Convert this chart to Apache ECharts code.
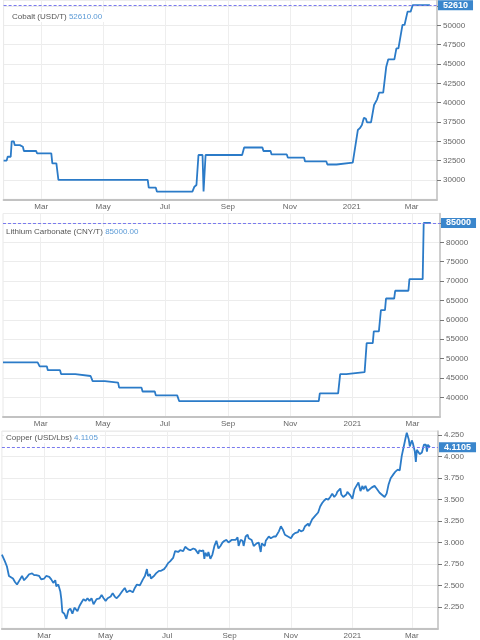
<!DOCTYPE html>
<html>
<head>
<meta charset="utf-8">
<script src="https://cdn.jsdelivr.net/npm/echarts@6.0.0/dist/echarts.min.js"></script>
<style>html,body{margin:0;padding:0;background:#fff}#c{width:480px;height:640px}</style>
</head>
<body>
<div id="c"></div>
<script>
// ---------------- DATA ----------------
const monthLabels = ['Jan','Feb','Mar','Apr','May','Jun','Jul','Aug','Sep','Oct','Nov','Dec'];
const labelMonths = ['01','03','05','07','09','11'];

const cobaltDates = ["2020-01-24","2020-01-27","2020-01-28","2020-01-31","2020-02-01","2020-02-03","2020-02-04","2020-02-09","2020-02-10","2020-02-12","2020-02-13","2020-02-25","2020-02-26","2020-03-11","2020-03-12","2020-03-16","2020-03-18","2020-06-14","2020-06-15","2020-06-22","2020-06-23","2020-07-28","2020-07-30","2020-08-01","2020-08-03","2020-08-07","2020-08-08","2020-08-10","2020-09-15","2020-09-17","2020-10-05","2020-10-06","2020-10-13","2020-10-14","2020-10-29","2020-10-30","2020-11-15","2020-11-16","2020-12-07","2020-12-08","2020-12-17","2020-12-18","2021-01-02","2021-01-07","2021-01-09","2021-01-11","2021-01-13","2021-01-15","2021-01-16","2021-01-20","2021-01-23","2021-01-26","2021-01-28","2021-02-01","2021-02-04","2021-02-06","2021-02-12","2021-02-14","2021-02-16","2021-02-20","2021-02-22","2021-02-25","2021-02-28","2021-03-02","2021-03-19"];
const cobaltPrices = [32500,32500,33000,33000,35000,35000,34500,34500,34300,34300,33750,33750,33450,33450,32150,32150,30000,30000,29000,29000,28500,28500,29130,29350,33230,33230,28500,33230,33230,34200,34200,33750,33750,33300,33300,32900,32900,32400,32400,32000,32000,32250,32250,36460,36700,37100,38060,37900,37460,37460,39700,40430,41300,41300,44650,45600,45600,47030,47030,50050,50050,51770,51770,52610,52610];

const lithiumDates = ["2020-01-24","2020-02-27","2020-02-29","2020-03-07","2020-03-08","2020-03-20","2020-03-21","2020-04-04","2020-04-05","2020-04-19","2020-04-21","2020-05-03","2020-05-04","2020-05-16","2020-05-17","2020-06-08","2020-06-09","2020-06-21","2020-06-22","2020-07-13","2020-07-15","2020-11-29","2020-11-30","2020-12-18","2020-12-20","2020-12-26","2020-12-27","2021-01-13","2021-01-15","2021-01-21","2021-01-22","2021-01-27","2021-01-29","2021-02-02","2021-02-03","2021-02-11","2021-02-12","2021-02-25","2021-02-26","2021-03-11","2021-03-12","2021-03-19"];
const lithiumPrices = [49000,49000,48000,48000,47000,47000,46000,46000,45500,45500,44200,44200,43800,43800,42500,42500,41500,41500,40500,40500,39000,39000,41000,41000,46000,46000,46500,46500,54000,54000,57000,57000,62500,62500,65500,65500,67500,67500,70500,70500,85000,85000];

const copperDates = [
"2020-01-19","2020-01-22","2020-01-24","2020-01-26","2020-01-30",
"2020-02-01","2020-02-03","2020-02-05","2020-02-08","2020-02-10","2020-02-13","2020-02-15","2020-02-18","2020-02-20","2020-02-22","2020-02-25","2020-02-27",
"2020-03-01","2020-03-03","2020-03-06","2020-03-08","2020-03-10","2020-03-12","2020-03-13","2020-03-15","2020-03-17","2020-03-18","2020-03-19","2020-03-21","2020-03-23","2020-03-25","2020-03-27","2020-03-29","2020-03-31",
"2020-04-03","2020-04-05","2020-04-07","2020-04-09","2020-04-11","2020-04-13","2020-04-15","2020-04-17","2020-04-19","2020-04-22","2020-04-25","2020-04-27","2020-04-29",
"2020-05-01","2020-05-03","2020-05-06","2020-05-08","2020-05-10","2020-05-12","2020-05-15","2020-05-18","2020-05-20","2020-05-22","2020-05-25","2020-05-28","2020-05-30",
"2020-06-01","2020-06-04","2020-06-07","2020-06-09","2020-06-11","2020-06-12","2020-06-14","2020-06-15","2020-06-18","2020-06-20","2020-06-23","2020-06-25","2020-06-28","2020-06-30",
"2020-07-02","2020-07-04","2020-07-07","2020-07-09","2020-07-12","2020-07-14","2020-07-17","2020-07-19","2020-07-22","2020-07-24","2020-07-27","2020-07-29",
"2020-08-01","2020-08-02","2020-08-04","2020-08-06","2020-08-07","2020-08-08","2020-08-10","2020-08-11","2020-08-13","2020-08-15","2020-08-17","2020-08-19","2020-08-21","2020-08-23","2020-08-25","2020-08-27","2020-08-29","2020-08-31",
"2020-09-03","2020-09-04","2020-09-07","2020-09-09","2020-09-10","2020-09-12","2020-09-14","2020-09-15","2020-09-17","2020-09-19","2020-09-20","2020-09-23","2020-09-25","2020-09-28","2020-09-30",
"2020-10-02","2020-10-03","2020-10-06","2020-10-07","2020-10-10","2020-10-12","2020-10-15","2020-10-17","2020-10-20","2020-10-22","2020-10-24","2020-10-26","2020-10-29",
"2020-11-01","2020-11-03","2020-11-05","2020-11-08","2020-11-09","2020-11-11","2020-11-13","2020-11-15","2020-11-18","2020-11-19","2020-11-22","2020-11-23","2020-11-25","2020-11-28","2020-11-30",
"2020-12-02","2020-12-04","2020-12-06","2020-12-08","2020-12-10","2020-12-12","2020-12-14","2020-12-16","2020-12-17","2020-12-20","2020-12-21","2020-12-23","2020-12-26","2020-12-27","2020-12-30",
"2021-01-01","2021-01-03","2021-01-05","2021-01-07","2021-01-09","2021-01-11","2021-01-12","2021-01-14","2021-01-16","2021-01-18","2021-01-20","2021-01-23","2021-01-25","2021-01-28","2021-01-30",
"2021-02-02","2021-02-04","2021-02-06","2021-02-08","2021-02-11","2021-02-13","2021-02-15","2021-02-17","2021-02-19","2021-02-21","2021-02-23","2021-02-24","2021-02-26","2021-02-27",
"2021-03-01","2021-03-02","2021-03-04","2021-03-05","2021-03-06","2021-03-07","2021-03-09","2021-03-11","2021-03-13","2021-03-15","2021-03-16","2021-03-17","2021-03-19"];
const copperPrices = [
2.86,2.78,2.72,2.61,2.58,
2.54,2.51,2.55,2.61,2.56,2.60,2.63,2.64,2.62,2.62,2.61,2.57,
2.58,2.61,2.60,2.57,2.53,2.56,2.49,2.51,2.43,2.34,2.19,2.17,2.11,2.21,2.23,2.17,2.24,
2.20,2.26,2.30,2.34,2.32,2.35,2.32,2.35,2.28,2.34,2.35,2.39,2.35,
2.32,2.35,2.37,2.41,2.37,2.35,2.39,2.44,2.47,2.42,2.44,2.42,2.47,
2.51,2.50,2.57,2.61,2.69,2.61,2.63,2.58,2.61,2.64,2.67,2.67,2.69,2.72,
2.76,2.78,2.82,2.90,2.89,2.91,2.90,2.95,2.92,2.91,2.93,2.92,
2.87,2.91,2.90,2.91,2.81,2.88,2.84,2.89,2.81,2.86,2.96,3.02,2.93,2.96,3.00,3.02,3.03,3.00,
3.03,3.05,3.03,3.06,2.96,3.03,3.02,2.96,3.07,3.09,3.05,3.03,2.96,2.99,3.00,
2.89,2.99,2.96,3.02,3.07,3.05,3.07,3.07,3.13,3.19,3.15,3.09,3.07,
3.05,3.09,3.11,3.12,3.15,3.13,3.14,3.19,3.22,3.19,3.27,3.29,3.31,3.35,3.42,
3.46,3.49,3.51,3.50,3.53,3.57,3.53,3.56,3.59,3.63,3.56,3.53,3.56,3.59,3.55,
3.51,3.62,3.66,3.70,3.60,3.66,3.62,3.66,3.60,3.62,3.64,3.66,3.63,3.58,3.56,
3.53,3.57,3.68,3.75,3.80,3.83,3.85,3.84,4.01,4.12,4.23,4.28,4.20,4.12,
4.19,4.16,4.06,3.94,4.08,4.10,4.03,4.05,4.14,4.14,4.06,4.14,4.1105];

const seriesNames = ['Cobalt (USD/T)', 'Lithium Carbonate (CNY/T)', 'Copper (USD/Lbs)'];
const lastValues = [52610, 85000, 4.1105];
const lastValueTexts = ['52610.00', '85000.00', '4.1105'];
const lastTagTexts = ['52610', '85000', '4.1105'];
const axisStart = ['2020-01-24', '2020-01-24', '2020-01-19'];
const axisEnd = ['2021-03-26', '2021-03-28', '2021-03-27'];
const yMin = [27500, 35000, 2.0];
const yMax = [53276, 87440, 4.30];
const yStep = [2500, 5000, 0.25];
const yLabelTop = [50000, 80000, 4.25];
const yDecimals = [0, 0, 3];

// ---------------- LAYOUT / STYLE ----------------
const grids = [
  {left: 3.6, top: 0, width: 433.4, height: 199.3},
  {left: 3, top: 213.5, width: 437, height: 203.2},
  {left: 1.9, top: 431, width: 436.1, height: 197.3}
];
const titlePos = [
  {left: 10, top: 12},
  {left: 4, top: 227},
  {left: 4, top: 433}
];
const LINE = '#2b7bc8';
const FONT = 'Liberation Sans, Arial, Helvetica, sans-serif';

function dayRange(start, end) {
  const out = [];
  let t = Date.parse(start + 'T00:00:00Z');
  const e = Date.parse(end + 'T00:00:00Z');
  while (t <= e) { out.push(new Date(t).toISOString().slice(0, 10)); t += 86400000; }
  return out;
}
function isMonthTick(idx, val) {
  return val.slice(8) === '01' && labelMonths.indexOf(val.slice(5, 7)) >= 0;
}

const allDates = [cobaltDates, lithiumDates, copperDates];
const allPrices = [cobaltPrices, lithiumPrices, copperPrices];

const option = {
  animation: false,
  backgroundColor: '#ffffff',
  textStyle: {fontFamily: FONT},
  title: seriesNames.map((n, i) => ({
    text: '{a|' + n + '} {b|' + lastValueTexts[i] + '}',
    left: titlePos[i].left, top: titlePos[i].top,
    padding: [1, 2, 1, 2],
    backgroundColor: '#ffffff',
    textStyle: {fontSize: 8, fontFamily: FONT, fontWeight: 'normal',
      rich: {a: {color: '#555555', fontSize: 8, fontFamily: FONT},
             b: {color: '#5b9ad6', fontSize: 8, fontFamily: FONT}}}
  })),
  grid: grids.map(g => Object.assign({show: true, borderColor: '#e8e8e8', borderWidth: 1,
    containLabel: false, outerBoundsMode: 'none'}, g)),
  xAxis: seriesNames.map((n, i) => ({
    type: 'category', gridIndex: i, boundaryGap: false,
    data: dayRange(axisStart[i], axisEnd[i]),
    axisLine: {show: true, lineStyle: {color: '#c2c2c2', width: 2}},
    axisTick: {show: false},
    axisLabel: {interval: isMonthTick, margin: 3.5, color: '#666666', fontSize: 8, fontFamily: FONT,
      formatter: v => v.slice(5, 7) === '01' ? v.slice(0, 4) : monthLabels[+v.slice(5, 7) - 1]},
    splitLine: {show: true, interval: isMonthTick, lineStyle: {color: '#eeeeee', width: 1}}
  })),
  yAxis: seriesNames.map((n, i) => ({
    type: 'value', gridIndex: i, position: 'right',
    min: yMin[i], max: yMax[i], interval: yStep[i],
    axisLine: {show: true, lineStyle: {color: '#c2c2c2', width: 1.5}},
    axisTick: {show: true, length: 4, lineStyle: {color: '#777777'}},
    axisLabel: {margin: 6, color: '#666666', fontSize: 8, fontFamily: FONT,
      showMinLabel: false, showMaxLabel: false,
      formatter: v => (v > yLabelTop[i] + 1e-9 || v <= yMin[i] + 1e-9) ? '' : v.toFixed(yDecimals[i])},
    splitLine: {show: true, lineStyle: {color: '#ececec', width: 1}}
  })),
  series: seriesNames.map((n, i) => ({
    type: 'line', name: n, xAxisIndex: i, yAxisIndex: i,
    data: allDates[i].map((d, k) => [d, allPrices[i][k]]),
    symbol: 'none', showSymbol: false,
    lineStyle: {color: LINE, width: 1.8},
    itemStyle: {color: LINE},
    markLine: {
      silent: true, symbol: 'none', animation: false,
      lineStyle: {type: [3, 2], color: '#7a7aee', width: 1, opacity: 1},
      emphasis: {disabled: true},
      label: {show: true, position: 'end', distance: 1,
        formatter: () => lastTagTexts[i],
        color: '#ffffff', backgroundColor: '#3a86cc', fontSize: 9, fontWeight: 'bold',
        fontFamily: FONT, padding: [1, 5, 0, 5], lineHeight: 9},
      data: [{yAxis: lastValues[i]}]
    }
  }))
};

const chart = echarts.init(document.getElementById('c'), null, {renderer: 'canvas'});
chart.setOption(option);
</script>
</body>
</html>
